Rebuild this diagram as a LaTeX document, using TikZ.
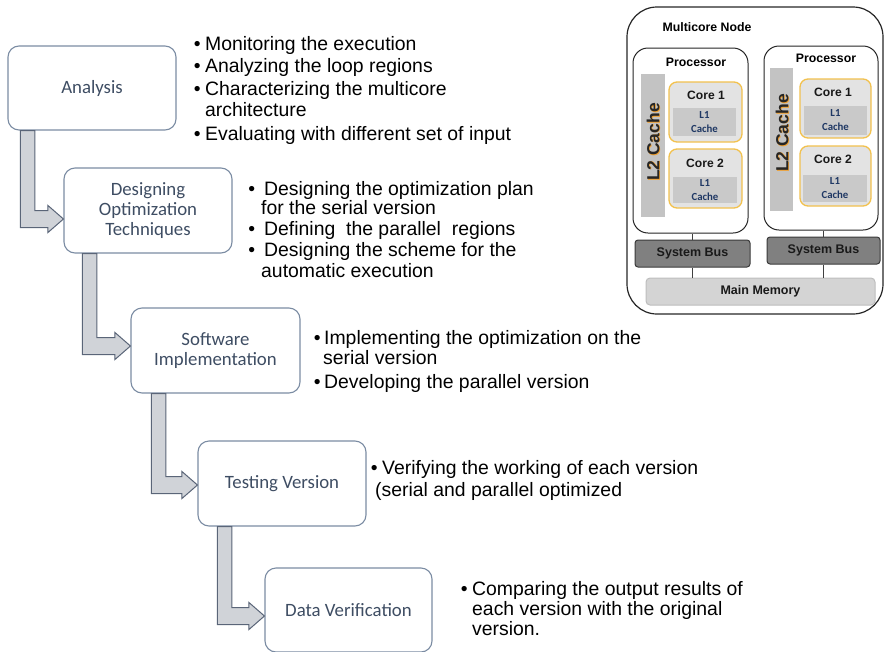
\documentclass[tikz,border=0pt]{standalone}
\usepackage{fontspec}
\setmainfont{Liberation Sans}
\newfontfamily\carlito{Carlito}
\usetikzlibrary{calc}
\definecolor{boxline}{HTML}{7B8CA3}
\definecolor{boxtext}{HTML}{3E4D63}
\definecolor{arrfill}{HTML}{D0D3D8}
\definecolor{arrline}{HTML}{5A6578}
\definecolor{coreline}{HTML}{F2C14E}
\definecolor{l2fill}{HTML}{C3C3C3}
\definecolor{corefill}{HTML}{E3E3E3}
\definecolor{lonefill}{HTML}{C9C9C9}
\definecolor{busfill}{HTML}{808080}
\definecolor{busline}{HTML}{3A3A3A}
\definecolor{memfill}{HTML}{D4D4D4}
\definecolor{memline}{HTML}{BDBDBD}
\definecolor{lonetext}{HTML}{1F3864}
\definecolor{glow}{HTML}{F0A030}
\newcommand\flowarrow[4]{%
  \coordinate (arTip) at ($(#2.west)+(0,#4)$);
  \coordinate (arBa) at ($(#1.south west)+(#3,0)$);
  \coordinate (arBb) at ($(arBa)+(14.5,0)$);
  \coordinate (arST) at ($(arTip)+(0,-8.5)$);
  \coordinate (arSB) at ($(arTip)+(0,8.5)$);
  \coordinate (arHT) at ($(arTip)+(-15.5,-13.5)$);
  \coordinate (arHB) at ($(arTip)+(-15.5,13.5)$);
  \draw[flowarr] (arBa) -- (arBb) -- (arBb |- arST) -- (arHT |- arST) -- (arHT) -- (arTip) -- (arHB) -- (arHB |- arSB) -- (arBa |- arSB) -- cycle;
}
\newcommand\bul[1]{\llap{\textbullet\hspace{#1}}}
\begin{document}
\begin{tikzpicture}[x=1pt,y=-1pt,
  stage/.style={draw=boxline, line width=1.1pt, rounded corners=11pt, fill=white,
    inner sep=0pt, align=center, text=boxtext,
    font=\carlito\fontsize{18.8}{20}\selectfont},
  flowarr/.style={draw=arrline, line width=1pt, fill=arrfill, line join=miter},
  txt/.style={anchor=base west, inner sep=0pt, font=\fontsize{19.4}{21}\selectfont},
  outerbox/.style={draw=black!85, line width=1.2pt, rounded corners=30pt, inner sep=0pt},
  procbox/.style={draw=black!85, line width=1pt, rounded corners=15pt, fill=white, inner sep=0pt},
  l2bar/.style={fill=l2fill, inner sep=0pt},
  corebox/.style={draw=coreline, line width=1.3pt, fill=corefill, rounded corners=8pt, inner sep=0pt},
  lonebox/.style={fill=lonefill, inner sep=0pt, align=center, text=lonetext,
    font=\carlito\bfseries\fontsize{10.8}{14}\selectfont},
  busbox/.style={draw=busline, line width=1pt, fill=busfill, rounded corners=3pt, inner sep=0pt,
    font=\bfseries\fontsize{12.5}{14}\selectfont, text=black!90},
  membox/.style={draw=memline, line width=1pt, fill=memfill, rounded corners=4pt, inner sep=0pt,
    font=\bfseries\fontsize{12.5}{14}\selectfont, text=black!90},
  btitle/.style={inner sep=0pt, font=\bfseries\fontsize{12.3}{14}\selectfont},
  ctitle/.style={inner sep=0pt, font=\bfseries\fontsize{12.1}{14}\selectfont, text=black!90},
  l2text/.style={inner sep=0pt, rotate=90, font=\bfseries\fontsize{17.5}{19}\selectfont},
  wire/.style={draw=black!75, line width=1pt}]
\useasboundingbox (0,0) rectangle (884,651);

% ---------------- flow stages ----------------
\node[stage, minimum width=168pt, minimum height=84pt] (A) at (92,88) {Analysis};
\node[stage, minimum width=168pt, minimum height=85pt] (D) at (148,210.5) {Designing\\Optimization\\Techniques};
\node[stage, minimum width=169pt, minimum height=85pt] (S) at (215.5,350.5) {Software\\Implementation};
\node[stage, minimum width=168pt, minimum height=85pt] (T) at (282,483.5) {Testing Version};
\node[stage, minimum width=167pt, minimum height=84pt] (V) at (348.5,610) {Data Verification};

\flowarrow{A}{D}{13}{8.5}
\flowarrow{D}{S}{19}{-4.5}
\flowarrow{S}{T}{21}{1.5}
\flowarrow{T}{V}{20}{6}

% ---------------- bullet texts ----------------
\node[txt] (g1a) at (205,50) {\bul{4.5pt}Monitoring the execution};
\node[txt] (g1b) at (205,72) {\bul{4.5pt}Analyzing the loop regions};
\node[txt] (g1c) at (205,95.5) {\bul{4.5pt}Characterizing the multicore};
\node[txt] (g1d) at (205,116) {architecture};
\node[txt] (g1e) at (205,140) {\bul{4.5pt}Evaluating with different set of input};

\node[txt] (g2a) at (264,195) {\bul{9pt}Designing the optimization plan};
\node[txt] (g2b) at (261,214) {for the serial version};
\node[txt] (g2c) at (264,235) {\bul{9pt}Defining\ \ the parallel\ \ regions};
\node[txt] (g2d) at (264,256) {\bul{9pt}Designing the scheme for the};
\node[txt] (g2e) at (261,277) {automatic execution};

\node[txt] (g3a) at (324,344) {\bul{3.5pt}Implementing the optimization on the};
\node[txt] (g3b) at (323,364) {serial version};
\node[txt] (g3c) at (324,388) {\bul{3.5pt}Developing the parallel version};

\node[txt] (g4a) at (382,474) {\bul{4.5pt}Verifying the working of each version};
\node[txt] (g4b) at (375,496) {(serial and parallel optimized};

\node[txt] (g5a) at (472,595) {\bul{4.5pt}Comparing the output results of};
\node[txt] (g5b) at (472,615) {each version with the original};
\node[txt] (g5c) at (472,635) {version.};

% ---------------- multicore node ----------------
\node[outerbox, minimum width=256pt, minimum height=307pt] (MC) at (755,160.5) {};
\node[btitle] (MCt) at (707,27) {Multicore Node};

\node[procbox, minimum width=115pt, minimum height=185pt] (P1) at (690.5,140.5) {};
\node[procbox, minimum width=114pt, minimum height=184pt] (P2) at (821,138) {};
\node[btitle] (P1t) at (696,62) {Processor};
\node[btitle] (P2t) at (826,58) {Processor};

\node[l2bar, minimum width=24pt, minimum height=143pt] (L2a) at (653,145.5) {};
\node[l2bar, minimum width=23pt, minimum height=143pt] (L2b) at (781.5,139.5) {};
\node[l2text, text=glow] (L2ag) at (653.9,142.6) {L2 Cache};
\node[l2text, text=black!85] (L2at) at (653,142) {L2 Cache};
\node[l2text, text=glow] (L2bg) at (782.9,133.6) {L2 Cache};
\node[l2text, text=black!85] (L2bt) at (782,133) {L2 Cache};

\node[corebox, minimum width=73pt, minimum height=60pt] (C11) at (705.5,112) {};
\node[corebox, minimum width=73pt, minimum height=59pt] (C12) at (705.5,178.5) {};
\node[corebox, minimum width=71pt, minimum height=59pt] (C21) at (835.5,108.5) {};
\node[corebox, minimum width=71pt, minimum height=60pt] (C22) at (835.5,176) {};
\node[ctitle] (C11t) at (706,95) {Core 1};
\node[ctitle] (C12t) at (705,163) {Core 2};
\node[ctitle] (C21t) at (833,92) {Core 1};
\node[ctitle] (C22t) at (833,159) {Core 2};

\node[lonebox, minimum width=63pt, minimum height=28pt] (L11) at (704.5,122) {L1\\Cache};
\node[lonebox, minimum width=64pt, minimum height=26pt] (L12) at (705,190) {L1\\Cache};
\node[lonebox, minimum width=63pt, minimum height=29pt] (L21) at (835.5,120.5) {L1\\Cache};
\node[lonebox, minimum width=64pt, minimum height=27pt] (L22) at (835,188.5) {L1\\Cache};

\node[busbox, minimum width=115pt, minimum height=27pt] (SB1) at (692.5,253.5) {System Bus};
\node[busbox, minimum width=113pt, minimum height=27pt] (SB2) at (823.5,250.5) {System Bus};
\node[membox, minimum width=229pt, minimum height=27pt] (MM) at (760.5,291.5) {Main Memory};

\draw[wire] (SB1.north) -- (SB1.north |- P1.south);
\draw[wire] (SB1.south) -- (SB1.south |- MM.north);
\draw[wire] (SB2.north) -- (SB2.north |- P2.south);
\draw[wire] (SB2.south) -- (SB2.south |- MM.north);
\end{tikzpicture}
\end{document}
